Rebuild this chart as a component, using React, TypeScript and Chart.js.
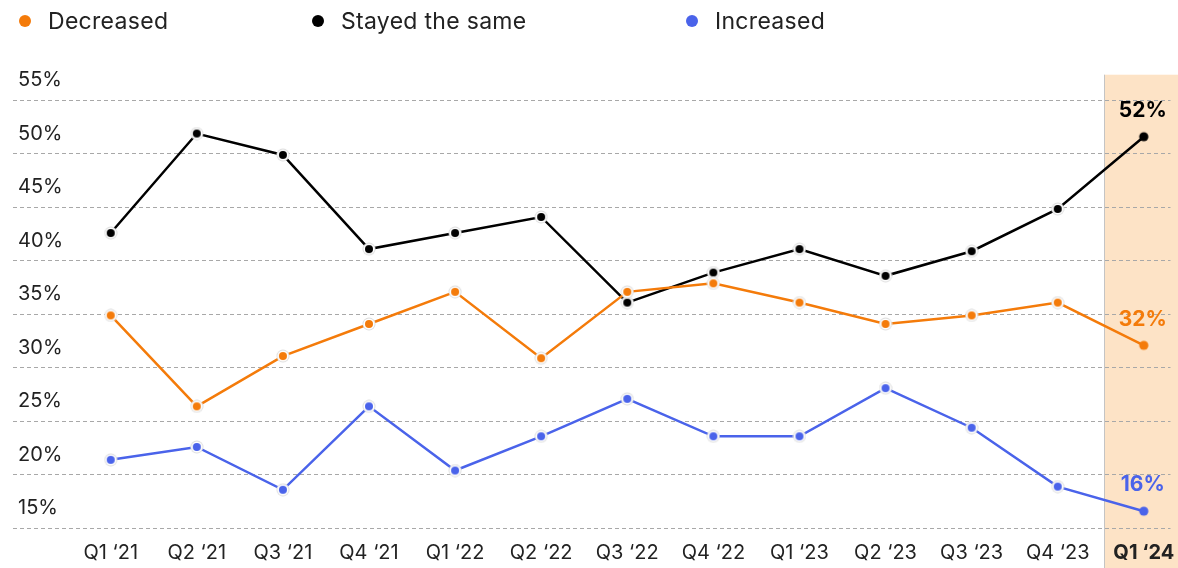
import React, { useEffect, useRef } from "react";
import { Chart, registerables } from "chart.js";

Chart.register(...registerables);

// ---------- data ----------
const categories = [
  "Q1 ‘21", "Q2 ‘21", "Q3 ‘21", "Q4 ‘21",
  "Q1 ‘22", "Q2 ‘22", "Q3 ‘22", "Q4 ‘22",
  "Q1 ‘23", "Q2 ‘23", "Q3 ‘23", "Q4 ‘23",
  "Q1 ‘24",
];
const seriesNames = ["Decreased", "Stayed the same", "Increased"];
const decreased = [34.9, 26.4, 31.1, 34.1, 37.1, 30.9, 37.1, 37.9, 36.1, 34.1, 34.9, 36.1, 32.1];
const stayedSame = [42.6, 51.9, 49.9, 41.1, 42.6, 44.1, 36.1, 38.9, 41.1, 38.6, 40.9, 44.85, 51.6];
const increased = [21.4, 22.6, 18.6, 26.4, 20.4, 23.6, 27.1, 23.6, 23.6, 28.1, 24.4, 18.9, 16.6];
const endLabels = ["32%", "52%", "16%"];
const yTickValues = [15, 20, 25, 30, 35, 40, 45, 50, 55];

// ---------- styles ----------
const FONT = "Inter, 'Noto Sans', sans-serif";
const TEXT = "#222222";
const COLORS = ["#F47B0A", "#000000", "#4A63EA"];
const LEGEND_X = [25, 318, 692];
const HIGHLIGHT = "#FDE3C6";

function makeDot(color: string, ring: boolean): HTMLCanvasElement {
  const c = document.createElement("canvas");
  c.width = 14;
  c.height = 14;
  const g = c.getContext("2d")!;
  const cx = 7, cy = 7;
  if (ring) {
    g.beginPath(); g.arc(cx, cy, 6.5, 0, Math.PI * 2); g.fillStyle = "#dcdcdc"; g.fill();
    g.beginPath(); g.arc(cx, cy, 5.6, 0, Math.PI * 2); g.fillStyle = "#ffffff"; g.fill();
    g.beginPath(); g.arc(cx, cy, 4, 0, Math.PI * 2); g.fillStyle = color; g.fill();
  } else {
    g.beginPath(); g.arc(cx, cy, 4.6, 0, Math.PI * 2); g.fillStyle = color; g.fill();
  }
  return c;
}

const highlightPlugin = {
  id: "highlight",
  beforeDraw(chart: any) {
    const { ctx, chartArea, scales } = chart;
    const last = categories.length - 1;
    const x0 = Math.round(scales.x.getPixelForValue(last) - 40) + 0.5;
    ctx.save();
    ctx.fillStyle = HIGHLIGHT;
    ctx.fillRect(x0, chartArea.top, chart.width - x0, chart.height - chartArea.top);
    ctx.strokeStyle = "#c4c4c4";
    ctx.lineWidth = 1;
    ctx.beginPath();
    ctx.moveTo(x0, chartArea.top);
    ctx.lineTo(x0, chart.height);
    ctx.stroke();
    ctx.restore();
  },
};

const legendPlugin = {
  id: "customLegend",
  afterDraw(chart: any) {
    const { ctx } = chart;
    ctx.save();
    chart.data.datasets.forEach((ds: any, i: number) => {
      const x = LEGEND_X[i];
      const y = 21;
      ctx.beginPath();
      ctx.arc(x, y, 6, 0, Math.PI * 2);
      ctx.fillStyle = ds.borderColor;
      ctx.fill();
      ctx.font = `23px ${FONT}`;
      try { (ctx as any).letterSpacing = "0.3px"; } catch (e) {}
      ctx.fillStyle = TEXT;
      ctx.textAlign = "left";
      ctx.textBaseline = "middle";
      ctx.fillText(ds.label, x + 23, y + 1);
    });
    ctx.restore();
  },
};

const endLabelPlugin = {
  id: "endLabels",
  afterDatasetsDraw(chart: any) {
    const { ctx } = chart;
    ctx.save();
    chart.data.datasets.forEach((ds: any, i: number) => {
      const meta = chart.getDatasetMeta(i);
      const pt = meta.data[meta.data.length - 1];
      if (!pt) return;
      ctx.font = `bold 21px ${FONT}`;
      ctx.fillStyle = ds.borderColor;
      ctx.textAlign = "center";
      ctx.textBaseline = "middle";
      ctx.fillText(endLabels[i], pt.x - 1, pt.y - 26);
    });
    ctx.restore();
  },
};

export default function App() {
  const ref = useRef<HTMLCanvasElement | null>(null);

  useEffect(() => {
    document.body.style.margin = "0";
    const canvas = ref.current;
    if (!canvas) return;
    const series = [decreased, stayedSame, increased];
    const last = categories.length - 1;
    const datasets = series.map((vals, i) => {
      const ringDot = makeDot(COLORS[i], true);
      const plainDot = makeDot(COLORS[i], false);
      return {
        label: seriesNames[i],
        data: vals.map((y, x) => ({ x, y })),
        borderColor: COLORS[i],
        backgroundColor: COLORS[i],
        borderWidth: 2.5,
        pointRadius: 5,
        pointStyle: (c: any) => (c.dataIndex === last ? plainDot : ringDot),
        tension: 0,
      };
    });

    const chart = new Chart(canvas, {
      type: "line",
      data: { datasets } as any,
      options: {
        responsive: false,
        devicePixelRatio: 1,
        animation: false,
        layout: { padding: { left: 13, right: 0, top: 74.7, bottom: 2.7 } },
        plugins: {
          legend: { display: false },
          tooltip: { enabled: false },
        },
        scales: {
          x: {
            type: "linear",
            min: -1.135,
            max: 12.31,
            afterBuildTicks: (axis: any) => {
              axis.ticks = categories.map((_, i) => ({ value: i }));
            },
            afterFit: (axis: any) => {
              axis.paddingLeft = 0;
              axis.paddingRight = 0;
              axis.paddingTop = 0;
              axis.paddingBottom = 0;
              axis.height = 37;
            },
            grid: { display: false, drawTicks: false },
            border: { display: false },
            ticks: {
              autoSkip: false,
              maxRotation: 0,
              minRotation: 0,
              padding: 13,
              color: TEXT,
              font: (c: any) => ({
                family: FONT,
                size: 20,
                weight: c.index === last ? "bold" : "normal",
              }),
              callback: (v: any) => categories[v] ?? "",
            },
          },
          y: {
            min: 15,
            max: 57.4,
            afterBuildTicks: (axis: any) => {
              axis.ticks = yTickValues.map((v) => ({ value: v }));
            },
            afterFit: (axis: any) => {
              axis.paddingTop = 0;
              axis.paddingBottom = 0;
              axis.paddingLeft = 0;
              axis.paddingRight = 0;
              axis.width = 0;
            },
            grid: { color: "#a8a8a8", lineWidth: 1, drawTicks: false },
            border: { display: false, dash: [4, 3] },
            ticks: {
              mirror: true,
              padding: 5,
              labelOffset: -20,
              color: TEXT,
              font: { family: FONT, size: 20 },
              callback: (v: any) => `${v}%`,
            },
          },
        },
      } as any,
      plugins: [highlightPlugin, legendPlugin, endLabelPlugin],
    });
    return () => chart.destroy();
  }, []);

  return (
    <div style={{ width: 1178, height: 568 }}>
      <canvas ref={ref} width={1178} height={568} style={{ display: "block" }} />
    </div>
  );
}
